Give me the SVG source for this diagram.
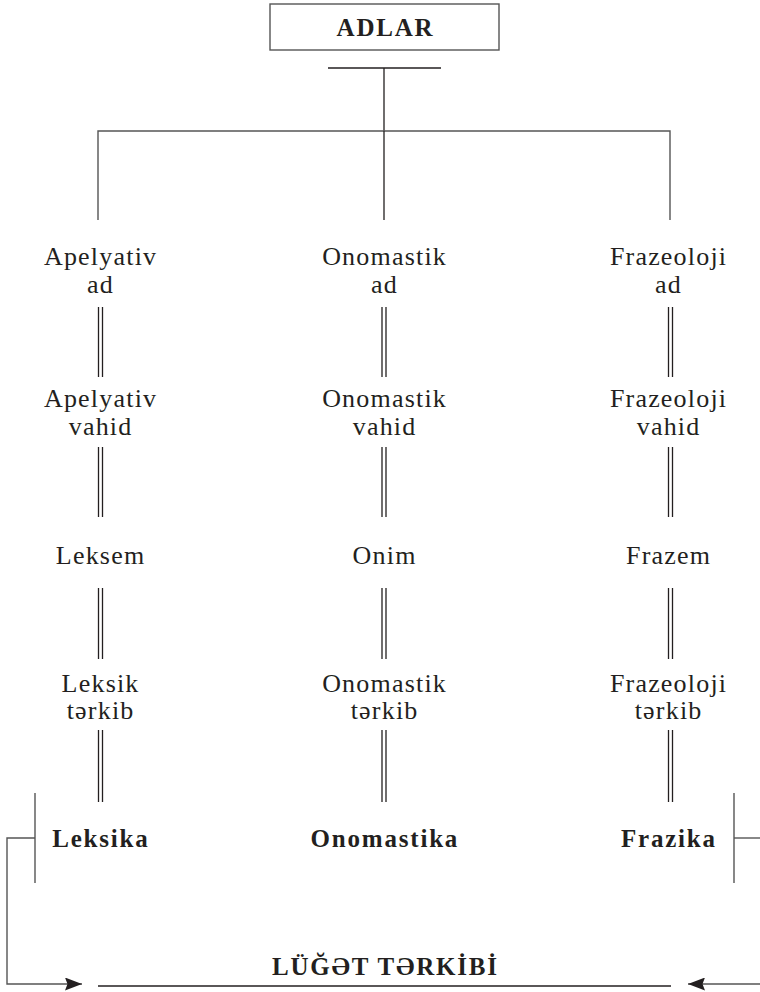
<svg xmlns="http://www.w3.org/2000/svg" width="760" height="992" viewBox="0 0 760 992">
<defs>
<style>
.t{font-family:"Liberation Serif","Times New Roman",serif;font-size:26px;letter-spacing:1.2px;fill:#231f20;text-anchor:middle}
.b{font-family:"Liberation Serif","Times New Roman",serif;font-size:25px;letter-spacing:1.8px;font-weight:bold;fill:#231f20;text-anchor:middle}
.ln{stroke:#231f20;stroke-width:1.3;fill:none}
.gl{stroke:#555;stroke-width:1.4;fill:none}
</style>
<marker id="ah" viewBox="0 0 17 13" markerWidth="17" markerHeight="13" refX="17" refY="6.5" orient="auto" markerUnits="userSpaceOnUse">
<path d="M0,0 L17,6.5 L0,13 L2.5,6.5 Z" fill="#231f20"/>
</marker>
</defs>
<rect width="760" height="992" fill="#fff"/>
<g id="connectors">
<line class="ln" x1="328" y1="68" x2="441" y2="68"/>
<line class="ln" x1="384" y1="68" x2="384" y2="131"/>
<polyline class="gl" points="98,220 98,131 670,131 670,220"/>
<line class="ln" x1="384" y1="131" x2="384" y2="220"/>
<g class="ln">
<line x1="98.5" y1="307" x2="98.5" y2="377"/><line x1="102.5" y1="307" x2="102.5" y2="377"/>
<line x1="98.5" y1="447" x2="98.5" y2="517"/><line x1="102.5" y1="447" x2="102.5" y2="517"/>
<line x1="98.5" y1="588" x2="98.5" y2="659"/><line x1="102.5" y1="588" x2="102.5" y2="659"/>
<line x1="98.5" y1="730" x2="98.5" y2="802"/><line x1="102.5" y1="730" x2="102.5" y2="802"/>
<line x1="382" y1="307" x2="382" y2="377"/><line x1="386" y1="307" x2="386" y2="377"/>
<line x1="382" y1="447" x2="382" y2="517"/><line x1="386" y1="447" x2="386" y2="517"/>
<line x1="382" y1="588" x2="382" y2="659"/><line x1="386" y1="588" x2="386" y2="659"/>
<line x1="382" y1="730" x2="382" y2="802"/><line x1="386" y1="730" x2="386" y2="802"/>
<line x1="668.5" y1="307" x2="668.5" y2="377"/><line x1="672.5" y1="307" x2="672.5" y2="377"/>
<line x1="668.5" y1="447" x2="668.5" y2="517"/><line x1="672.5" y1="447" x2="672.5" y2="517"/>
<line x1="668.5" y1="588" x2="668.5" y2="659"/><line x1="672.5" y1="588" x2="672.5" y2="659"/>
<line x1="668.5" y1="730" x2="668.5" y2="802"/><line x1="672.5" y1="730" x2="672.5" y2="802"/>
</g>
<line class="gl" x1="35" y1="793" x2="35" y2="883"/>
<polyline class="gl" points="35,838 7,838 7,984 82,984" marker-end="url(#ah)"/>
<line class="gl" x1="734" y1="793" x2="734" y2="883"/>
<line class="gl" x1="734" y1="838" x2="760" y2="838"/>
<polyline class="gl" points="760,984 688,984" marker-end="url(#ah)"/>
<line class="ln" x1="98" y1="986" x2="671" y2="986"/>
</g>
<g id="adlar"><rect x="270" y="4" width="229" height="46" fill="none" stroke="#555" stroke-width="1.4"/><text class="b" x="385.5" y="36">ADLAR</text></g>
<g id="apelyativ-ad"><text class="t" x="100.6" y="265">Apelyativ</text><text class="t" x="100.6" y="293">ad</text></g>
<g id="onomastik-ad"><text class="t" x="384.6" y="265">Onomastik</text><text class="t" x="384.6" y="293">ad</text></g>
<g id="frazeoloji-ad"><text class="t" x="668.6" y="265">Frazeoloji</text><text class="t" x="668.6" y="293">ad</text></g>
<g id="apelyativ-vahid"><text class="t" x="100.6" y="407">Apelyativ</text><text class="t" x="100.6" y="435">vahid</text></g>
<g id="onomastik-vahid"><text class="t" x="384.6" y="407">Onomastik</text><text class="t" x="384.6" y="435">vahid</text></g>
<g id="frazeoloji-vahid"><text class="t" x="668.6" y="407">Frazeoloji</text><text class="t" x="668.6" y="435">vahid</text></g>
<g id="leksem"><text class="t" x="100.6" y="564">Leksem</text></g>
<g id="onim"><text class="t" x="384.6" y="564">Onim</text></g>
<g id="frazem"><text class="t" x="668.6" y="564">Frazem</text></g>
<g id="leksik-terkib"><text class="t" x="100.6" y="692">Leksik</text><text class="t" x="100.6" y="719">tərkib</text></g>
<g id="onomastik-terkib"><text class="t" x="384.6" y="692">Onomastik</text><text class="t" x="384.6" y="719">tərkib</text></g>
<g id="frazeoloji-terkib"><text class="t" x="668.6" y="692">Frazeoloji</text><text class="t" x="668.6" y="719">tərkib</text></g>
<g id="leksika"><text class="b" x="100.9" y="847">Leksika</text></g>
<g id="onomastika"><text class="b" x="384.9" y="847">Onomastika</text></g>
<g id="frazika"><text class="b" x="668.9" y="847">Frazika</text></g>
<g id="lugat-terkibi"><text class="b" x="385.4" y="975">LÜĞƏT TƏRKİBİ</text></g>
</svg>
